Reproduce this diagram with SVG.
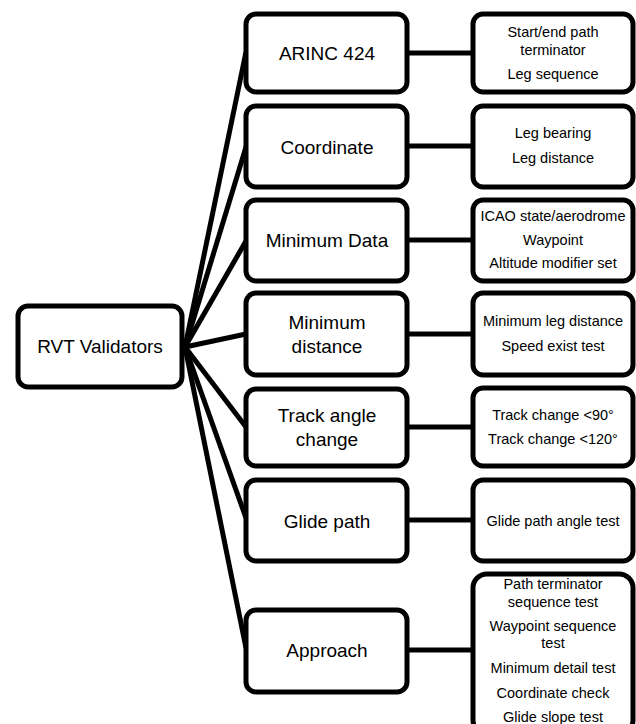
<svg xmlns="http://www.w3.org/2000/svg" width="636" height="724" viewBox="0 0 636 724">
<style>
.box{fill:#fff;stroke:#000;stroke-width:5}
.con{stroke:#000;stroke-width:5;fill:none}
.t{font-family:"Liberation Sans",Arial,sans-serif;font-size:19px;fill:#000;text-anchor:middle}
.s{font-family:"Liberation Sans",Arial,sans-serif;font-size:14.5px;fill:#000;text-anchor:middle}
</style>
<rect width="636" height="724" fill="#fff"/>
<g id="connectors">
<line class="con" x1="185" y1="347" x2="246" y2="52"/>
<line class="con" x1="185" y1="347" x2="246" y2="147"/>
<line class="con" x1="185" y1="347" x2="246" y2="241"/>
<line class="con" x1="185" y1="347" x2="246" y2="334"/>
<line class="con" x1="185" y1="347" x2="246" y2="427"/>
<line class="con" x1="185" y1="347" x2="246" y2="518"/>
<line class="con" x1="185" y1="347" x2="246" y2="648"/>
<line class="con" x1="408" y1="53" x2="472" y2="53"/>
<line class="con" x1="408" y1="146" x2="472" y2="146"/>
<line class="con" x1="408" y1="240" x2="472" y2="240"/>
<line class="con" x1="408" y1="334" x2="472" y2="334"/>
<line class="con" x1="408" y1="427" x2="472" y2="427"/>
<line class="con" x1="408" y1="520" x2="472" y2="520"/>
<line class="con" x1="408" y1="650" x2="472" y2="650"/>
</g>
<g id="rvt"><rect class="box" x="18" y="306" width="164" height="81" rx="10"/><text class="t" x="100" y="353">RVT Validators</text></g>
<g id="arinc"><rect class="box" x="246" y="14" width="161" height="78" rx="10"/><text class="t" x="327" y="60">ARINC 424</text></g>
<g id="coordinate"><rect class="box" x="246" y="106" width="161" height="81" rx="10"/><text class="t" x="327" y="154">Coordinate</text></g>
<g id="mindata"><rect class="box" x="246" y="200" width="161" height="81" rx="10"/><text class="t" x="327" y="247">Minimum Data</text></g>
<g id="mindist"><rect class="box" x="246" y="293" width="161" height="82" rx="10"/><text class="t" x="327" y="329">Minimum</text><text class="t" x="327" y="353">distance</text></g>
<g id="track"><rect class="box" x="246" y="389" width="161" height="77" rx="10"/><text class="t" x="327" y="422">Track angle</text><text class="t" x="327" y="446">change</text></g>
<g id="glide"><rect class="box" x="246" y="480" width="161" height="81" rx="10"/><text class="t" x="327" y="528">Glide path</text></g>
<g id="approach"><rect class="box" x="246" y="610" width="161" height="82" rx="10"/><text class="t" x="327" y="657">Approach</text></g>
<g id="arinc-d"><rect class="box" x="473" y="14" width="160" height="78" rx="10"/><text class="s" x="553" y="37">Start/end path</text><text class="s" x="553" y="55">terminator</text><text class="s" x="553" y="79">Leg sequence</text></g>
<g id="coordinate-d"><rect class="box" x="473" y="106" width="160" height="81" rx="10"/><text class="s" x="553" y="138">Leg bearing</text><text class="s" x="553" y="163">Leg distance</text></g>
<g id="mindata-d"><rect class="box" x="473" y="200" width="160" height="81" rx="10"/><text class="s" x="553" y="221">ICAO state/aerodrome</text><text class="s" x="553" y="245">Waypoint</text><text class="s" x="553" y="268">Altitude modifier set</text></g>
<g id="mindist-d"><rect class="box" x="473" y="293" width="160" height="82" rx="10"/><text class="s" x="553" y="326">Minimum leg distance</text><text class="s" x="553" y="351">Speed exist test</text></g>
<g id="track-d"><rect class="box" x="473" y="388" width="160" height="78" rx="10"/><text class="s" x="553" y="420">Track change &lt;90°</text><text class="s" x="553" y="444">Track change &lt;120°</text></g>
<g id="glide-d"><rect class="box" x="473" y="480" width="160" height="81" rx="10"/><text class="s" x="553" y="526">Glide path angle test</text></g>
<g id="approach-d"><rect class="box" x="473" y="574" width="160" height="160" rx="14"/><text class="s" x="553" y="589">Path terminator</text><text class="s" x="553" y="607">sequence test</text><text class="s" x="553" y="631">Waypoint sequence</text><text class="s" x="553" y="648">test</text><text class="s" x="553" y="673">Minimum detail test</text><text class="s" x="553" y="698">Coordinate check</text><text class="s" x="553" y="722">Glide slope test</text></g>
</svg>
